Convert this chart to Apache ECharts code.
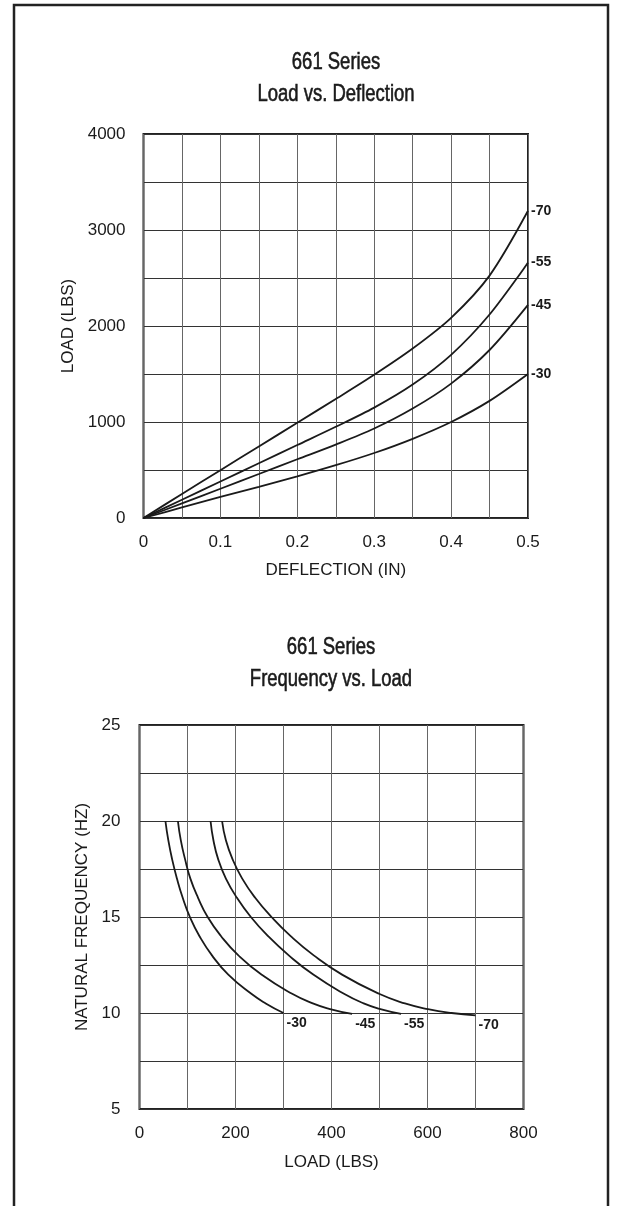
<!DOCTYPE html>
<html>
<head>
<meta charset="utf-8">
<script src="https://cdn.jsdelivr.net/npm/echarts@6/dist/echarts.min.js"></script>
<style>
html,body{margin:0;padding:0;background:#fff;}
#c{width:618px;height:1206px;}
</style>
</head>
<body>
<div id="c"></div>
<script>
// ---- Chart 1: Load vs. Deflection ----
const deflection = [0, 0.05, 0.1, 0.15, 0.2, 0.25, 0.3, 0.35, 0.4, 0.45, 0.5];
const load70 = [0, 250, 498, 745, 992, 1240, 1492, 1765, 2085, 2525, 3200];
const load55 = [0, 190, 380, 570, 760, 950, 1150, 1390, 1700, 2120, 2660];
const load45 = [0, 152, 305, 458, 612, 765, 932, 1140, 1400, 1750, 2220];
const load30 = [0, 110, 219, 325, 434, 550, 677, 825, 1000, 1220, 1500];
const durometers = ['-70', '-55', '-45', '-30'];

// ---- Chart 2: Frequency vs. Load ----
const f30Load = [54, 60, 68, 78, 90, 105, 125, 151, 185, 233, 263, 300];
const f30Hz   = [20, 19, 18, 17, 16, 15, 14, 13, 12, 11, 10.5, 10];
const f45Load = [80, 86, 95, 106, 122, 142, 170, 206, 254, 318, 361, 395, 443];
const f45Hz   = [20, 19, 18, 17, 16, 15, 14, 13, 12, 11, 10.5, 10.22, 9.95];
const f55Load = [148, 154, 164, 180, 203, 232, 268, 311, 362, 426, 467, 502, 545];
const f55Hz   = [20, 19, 18, 17, 16, 15, 14, 13, 12, 11, 10.5, 10.2, 9.95];
const f70Load = [172, 180, 194, 214, 241, 275, 315, 363, 422, 499, 553, 601, 650, 700];
const f70Hz   = [20, 19, 18, 17, 16, 15, 14, 13, 12, 11, 10.5, 10.2, 10.0, 9.88];

const xTicks1 = ['0', '0.1', '0.2', '0.3', '0.4', '0.5'];
const yTicks2 = ['5', '10', '15', '20', '25'];
const titles1 = ['661 Series', 'Load vs. Deflection'];
const titles2 = ['661 Series', 'Frequency vs. Load'];

const pair = (xs, ys) => xs.map((x, i) => [x, ys[i]]);

const tickFont = 'Liberation Sans, Arial, sans-serif';
const ink = '#1a1a1a';

function lineSeries(name, data, xi, endOffset, smooth) {
  return {
    type: 'line', name: name, xAxisIndex: xi, yAxisIndex: xi,
    data: data, smooth: smooth, showSymbol: false, symbol: 'none',
    lineStyle: { color: ink, width: 1.8 },
    endLabel: {
      show: true, formatter: '{a}', distance: 3, offset: endOffset,
      color: ink, fontFamily: tickFont, fontWeight: 'bold', fontSize: 14
    },
    animation: false, silent: true
  };
}

function titleText(str, cx, cy) {
  return {
    type: 'text', x: cx, y: cy, scaleX: 0.77, scaleY: 1, silent: true,
    style: {
      text: str, x: 0, y: 0, fill: ink, stroke: ink, lineWidth: 0.6,
      font: 'normal 24px "Liberation Sans", Arial, sans-serif',
      align: 'center', verticalAlign: 'middle',
      textAlign: 'center', textVerticalAlign: 'middle'
    }
  };
}

const chart = echarts.init(document.getElementById('c'), null, { renderer: 'canvas' });

const splitH = { show: true, lineStyle: { color: '#333', width: 1 } };
const splitV = { show: true, lineStyle: { color: '#666', width: 1 } };
const lbl = (extra) => Object.assign({ color: ink, fontFamily: tickFont, fontSize: 17 }, extra);
const nameStyle = { color: ink, fontFamily: tickFont, fontSize: 17 };

chart.setOption({
  backgroundColor: '#fff',
  animation: false,
  grid: [
    { left: 143.5, top: 134, width: 384.5, height: 384, show: true, borderColor: '#222', borderWidth: 2, backgroundColor: 'transparent' },
    { left: 139.5, top: 725, width: 384, height: 384, show: true, borderColor: '#222', borderWidth: 2, backgroundColor: 'transparent' }
  ],
  xAxis: [
    {
      gridIndex: 0, type: 'value', min: 0, max: 0.5, interval: 0.05,
      axisLine: { show: false }, axisTick: { show: false }, splitLine: splitV,
      axisLabel: lbl({ margin: 16, formatter: v => {
        const r = Math.round(v * 100);
        return r % 10 === 0 ? xTicks1[r / 10] : '';
      } }),
      name: 'DEFLECTION (IN)', nameLocation: 'middle', nameGap: 44, nameTextStyle: nameStyle
    },
    {
      gridIndex: 1, type: 'value', min: 0, max: 800, interval: 100,
      axisLine: { show: false }, axisTick: { show: false }, splitLine: splitV,
      axisLabel: lbl({ margin: 16, formatter: v => (Math.round(v) % 200 === 0 ? String(Math.round(v)) : '') }),
      name: 'LOAD (LBS)', nameLocation: 'middle', nameGap: 45, nameTextStyle: nameStyle
    }
  ],
  yAxis: [
    {
      gridIndex: 0, type: 'value', min: 0, max: 4000, interval: 500,
      axisLine: { show: false }, axisTick: { show: false }, splitLine: splitH,
      axisLabel: lbl({ margin: 18, formatter: v => (Math.round(v) % 1000 === 0 ? String(Math.round(v)) : '') }),
      name: 'LOAD (LBS)', nameLocation: 'middle', nameGap: 50, nameTextStyle: nameStyle
    },
    {
      gridIndex: 1, type: 'value', min: 5, max: 25, interval: 2.5,
      axisLine: { show: false }, axisTick: { show: false }, splitLine: splitH,
      axisLabel: lbl({ margin: 19, formatter: v => {
        const r = Math.round(v * 10);
        return r % 50 === 0 ? yTicks2[(r / 10 - 5) / 5] : '';
      } }),
      name: 'NATURAL FREQUENCY (HZ)', nameLocation: 'middle', nameGap: 44, nameTextStyle: nameStyle
    }
  ],
  series: [
    lineSeries(durometers[0], pair(deflection, load70), 0, [0, 0], 0.3),
    lineSeries(durometers[1], pair(deflection, load55), 0, [0, 0], 0.3),
    lineSeries(durometers[2], pair(deflection, load45), 0, [0, 0], 0.3),
    lineSeries(durometers[3], pair(deflection, load30), 0, [0, 0], 0.3),
    lineSeries(durometers[0], pair(f70Load, f70Hz), 1, [0, 10], 0.5),
    lineSeries(durometers[1], pair(f55Load, f55Hz), 1, [0, 10], 0.5),
    lineSeries(durometers[2], pair(f45Load, f45Hz), 1, [0, 10], 0.5),
    lineSeries(durometers[3], pair(f30Load, f30Hz), 1, [0, 10], 0.5)
  ],
  graphic: [
    titleText(titles1[0], 336, 62),
    titleText(titles1[1], 336, 94),
    titleText(titles2[0], 331, 647),
    titleText(titles2[1], 331, 679),
    { type: 'rect', silent: true, z: 100,
      shape: { x: 14, y: 5, width: 594, height: 1220 },
      style: { fill: 'none', stroke: '#222', lineWidth: 2.5 } }
  ]
});
</script>
</body>
</html>
